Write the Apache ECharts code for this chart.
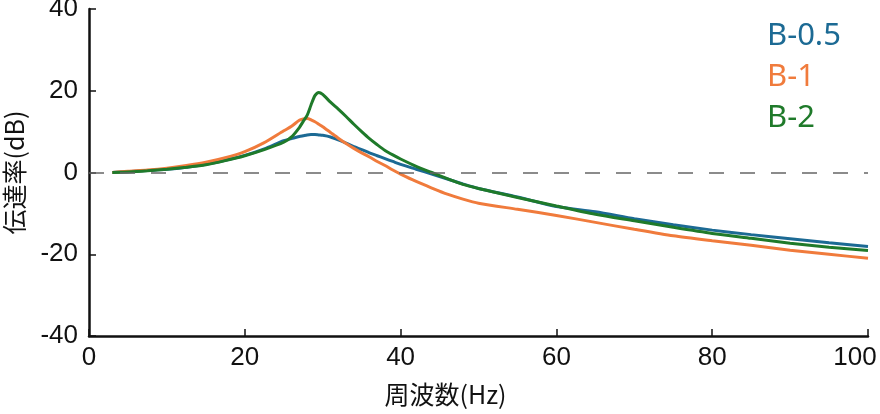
<!DOCTYPE html>
<html>
<head>
<meta charset="utf-8">
<script src="https://cdn.jsdelivr.net/npm/echarts@6/dist/echarts.min.js"></script>
<style>
  html, body { margin: 0; padding: 0; background: #fff; }
  #chart { width: 880px; height: 414px; }
</style>
</head>
<body>
<div id="chart"></div>
<script>
const freq = [3, 5, 7.5, 10, 12.5, 15, 17.5, 20, 22.5, 25, 26, 27, 27.5, 28, 28.5, 29, 29.5, 30, 31, 32, 33, 34, 35, 36, 37, 38, 39, 40, 42, 44, 46, 48, 50, 55, 60, 65, 70, 75, 80, 85, 90, 95, 100];
const b05 = [0, 0.2, 0.5, 0.8, 1.3, 2.0, 3.0, 4.2, 5.8, 7.8, 8.3, 8.8, 9.0, 9.2, 9.3, 9.3, 9.2, 9.1, 8.7, 8.0, 7.2, 6.3, 5.6, 4.8, 4.1, 3.4, 2.7, 2.0, 0.8, -0.4, -1.6, -2.8, -3.9, -6.0, -8.3, -9.6, -11.3, -12.8, -14.1, -15.2, -16.2, -17.2, -18.1];
const b1 = [0, 0.3, 0.6, 1.05, 1.7, 2.5, 3.6, 5.1, 7.3, 10.2, 11.3, 12.8, 13.1, 13.2, 12.9, 12.4, 11.8, 11.2, 9.8, 8.4, 7.1, 5.9, 4.8, 3.8, 2.7, 1.7, 0.6, -0.4, -2.2, -3.8, -5.3, -6.5, -7.5, -9.0, -10.5, -12.2, -13.9, -15.5, -16.7, -17.8, -19.0, -20.0, -21.0];
const b2 = [0, 0.1, 0.4, 0.8, 1.3, 1.9, 2.9, 4.1, 5.6, 7.4, 8.7, 11.0, 12.5, 14.0, 16.5, 18.8, 19.6, 19.1, 17.2, 15.5, 13.7, 11.8, 10.0, 8.3, 6.8, 5.4, 4.3, 3.3, 1.5, 0.0, -1.5, -2.9, -3.9, -6.1, -8.2, -10.2, -11.8, -13.4, -14.9, -16.1, -17.3, -18.3, -19.1];
const seriesNames = ['B-0.5', 'B-1', 'B-2'];
const colors = ['#1c6a94', '#f07b3c', '#1f7a2a'];
const xTicks = [0, 20, 40, 60, 80, 100];
const yTicks = [-40, -20, 0, 20, 40];

const pairs = (ys) => freq.map((f, i) => [f, ys[i]]);
const allY = [b05, b1, b2];
const xMax = xTicks[xTicks.length - 1];

const chart = echarts.init(document.getElementById('chart'), null, { renderer: 'canvas' });
const tickFont = { fontFamily: 'Liberation Sans', fontSize: 26, color: '#111' };
const cjkFont = 'Noto Sans CJK JP';

chart.setOption({
  animation: false,
  backgroundColor: '#fff',
  grid: { left: 89, right: 12, top: 9, bottom: 78, containLabel: false, outerBoundsMode: 'none' },
  legend: {
    orient: 'vertical',
    left: 757,
    top: 16,
    icon: 'none',
    itemWidth: 0,
    itemHeight: 10,
    itemGap: 10,
    data: seriesNames.map((n, i) => ({ name: n, textStyle: { color: colors[i] } })),
    textStyle: { fontFamily: 'Noto Sans', fontSize: 31 }
  },
  xAxis: {
    type: 'value',
    min: xTicks[0],
    max: xMax,
    interval: 20,
    name: '周波数(Hz)',
    nameLocation: 'middle',
    nameGap: 46,
    nameTextStyle: { fontFamily: cjkFont, fontSize: 25, color: '#111', padding: [0, 66, 0, 0] },
    axisLine: { show: true, onZero: false, lineStyle: { color: '#111', width: 2.5 } },
    axisTick: { show: true, inside: true, length: 7, lineStyle: { color: '#111', width: 1.5 } },
    axisLabel: Object.assign({
      margin: 9,
      formatter: (v) => (v === xMax ? '{m|' + v + '}' : String(v)),
      rich: { m: Object.assign({ padding: [0, 26, 0, 0] }, tickFont) }
    }, tickFont),
    splitLine: { show: false }
  },
  yAxis: {
    type: 'value',
    min: yTicks[0],
    max: yTicks[yTicks.length - 1],
    interval: 20,
    name: '伝達率(dB)',
    nameLocation: 'middle',
    nameGap: 62,
    nameRotate: 90,
    nameTextStyle: { fontFamily: cjkFont, fontSize: 25, color: '#111' },
    axisLine: { show: true, onZero: false, lineStyle: { color: '#111', width: 2.5 } },
    axisTick: { show: true, inside: true, length: 7, lineStyle: { color: '#111', width: 1.5 } },
    axisLabel: Object.assign({ margin: 11 }, tickFont),
    splitLine: { show: false }
  },
  series: seriesNames.map((n, i) => ({
    name: n,
    type: 'line',
    data: pairs(allY[i]),
    showSymbol: false,
    symbol: 'none',
    smooth: 0.25,
    lineStyle: { color: colors[i], width: 3 },
    itemStyle: { color: colors[i] },
    z: 2 + i,
    markLine: i === 0 ? {
      silent: true,
      symbol: 'none',
      label: { show: false },
      lineStyle: { color: '#666', width: 1.5, type: [15, 16] },
      data: [{ yAxis: 0 }]
    } : undefined
  }))
});
</script>
</body>
</html>
